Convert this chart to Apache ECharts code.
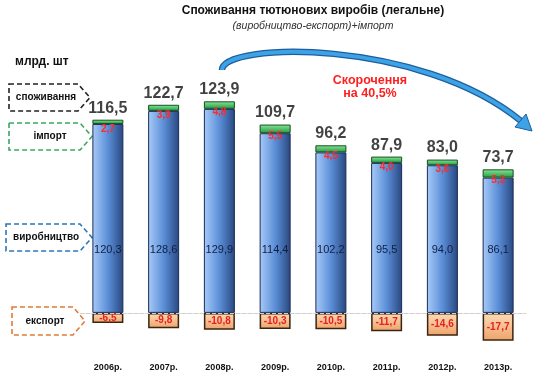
<!DOCTYPE html>
<html>
<head>
<meta charset="utf-8">
<script src="https://cdn.jsdelivr.net/npm/echarts@6/dist/echarts.min.js"></script>
<style>html,body{margin:0;padding:0;background:#fff}#c{width:550px;height:375px}</style>
</head>
<body>
<div id="c"></div>
<script>
var years = ['2006р.', '2007р.', '2008р.', '2009р.', '2010р.', '2011р.', '2012р.', '2013р.'];
var production = [120.3, 128.6, 129.9, 114.4, 102.2, 95.5, 94.0, 86.1];
var imports = [2.7, 3.9, 4.8, 5.5, 4.5, 4.0, 3.6, 5.3];
var exports = [-6.5, -9.8, -10.8, -10.3, -10.5, -11.7, -14.6, -17.7];
var consumption = [116.5, 122.7, 123.9, 109.7, 96.2, 87.9, 83.0, 73.7];

var FONT = '"Liberation Sans", Arial, sans-serif';
function fmt(v) { return v.toFixed(1).replace('.', ','); }

var topOfStack = production.map(function (p, i) { return p + imports[i]; });

function callout(x0, y0, x1, y1, color, text, tx) {
  var ym = (y0 + y1) / 2;
  return [{
    type: 'polygon',
    shape: { points: [[x0, y0], [x1 - 12, y0], [x1, ym], [x1 - 12, y1], [x0, y1]] },
    style: { fill: 'none', stroke: color, lineWidth: 1.6, lineDash: [5, 3] },
    silent: true
  }, {
    type: 'text',
    x: tx, y: ym,
    style: { text: text, fill: '#111', font: 'bold 10px ' + FONT, textAlign: 'center', textVerticalAlign: 'middle' },
    silent: true
  }];
}

var chart = echarts.init(document.getElementById('c'), null, { renderer: 'canvas' });

var graphics = [
  { type: 'text', x: 313, y: 11, style: { text: 'Споживання тютюнових виробів (легальне)', fill: '#111', font: 'bold 12px ' + FONT, textAlign: 'center', textVerticalAlign: 'middle' } },
  { type: 'text', x: 313, y: 26, style: { text: '(виробництво-експорт)+імпорт', fill: '#333', font: 'italic 10.5px ' + FONT, textAlign: 'center', textVerticalAlign: 'middle' } },
  { type: 'text', x: 15, y: 62, style: { text: 'млрд. шт', fill: '#111', font: 'bold 12px ' + FONT, textAlign: 'left', textVerticalAlign: 'middle' } },
  { type: 'text', x: 370, y: 87, style: { text: 'Скорочення\nна 40,5%', fill: '#ff1f1f', font: 'bold 12.5px ' + FONT, textAlign: 'center', textVerticalAlign: 'middle', lineHeight: 13 } },
  { type: 'bezierCurve', shape: { x1: 222, y1: 70, cpx1: 222, cpy1: 42, cpx2: 420, cpy2: 38, x2: 521, y2: 121 }, style: { stroke: '#1d5f9c', lineWidth: 6.5, fill: 'none' }, silent: true },
  { type: 'bezierCurve', shape: { x1: 222, y1: 70, cpx1: 222, cpy1: 42, cpx2: 420, cpy2: 38, x2: 521, y2: 121 }, style: { stroke: '#3ea2e6', lineWidth: 4, fill: 'none' }, silent: true },
  { type: 'polygon', shape: { points: [[532, 131], [515, 127], [526, 114]] }, style: { fill: '#3ea2e6', stroke: '#1d5f9c', lineWidth: 1 }, silent: true }
];
graphics = graphics
  .concat(callout(9, 84, 90, 111, '#222', 'споживання', 46))
  .concat(callout(9, 123, 92, 150, '#3aa860', 'імпорт', 50))
  .concat(callout(6, 224, 92, 251, '#2e75b6', 'виробництво', 46))
  .concat(callout(12, 307, 85, 335, '#e07b39', 'експорт', 45));

var option = {
  animation: false,
  backgroundColor: '#fff',
  grid: { left: 80, right: 24, top: 93, bottom: 15 },
  xAxis: {
    type: 'category',
    data: years,
    axisLine: { show: true, lineStyle: { color: '#e2e2e2' } },
    axisTick: { show: false },
    axisLabel: { margin: 3, fontFamily: FONT, fontSize: 9, fontWeight: 'bold', color: '#111' }
  },
  yAxis: { type: 'value', min: -30, max: 140, show: false },
  series: [
    {
      name: 'виробництво', type: 'bar', stack: 'total', barWidth: 31,
      data: production,
      itemStyle: {
        color: new echarts.graphic.LinearGradient(0, 0, 1, 0, [
          { offset: 0, color: '#a8cbf8' }, { offset: 0.5, color: '#5c8fd8' }, { offset: 1, color: '#28477f' }
        ]),
        borderColor: '#1b2c55', borderWidth: 1
      },
      label: { show: true, position: 'insideBottom', distance: 57, fontFamily: FONT, fontSize: 11, color: '#0f1f45', formatter: function (p) { return fmt(p.value); } },
      markLine: {
        silent: true, symbol: 'none', label: { show: false },
        lineStyle: { color: '#cfcfcf', type: 'dashed', width: 1 },
        data: [{ yAxis: 0 }]
      }
    },
    {
      name: 'імпорт', type: 'bar', stack: 'total', barWidth: 31,
      data: imports,
      itemStyle: {
        color: new echarts.graphic.LinearGradient(0, 0, 0, 1, [
          { offset: 0, color: '#8ae89a' }, { offset: 1, color: '#1f9a3f' }
        ]),
        borderColor: '#134d1e', borderWidth: 1
      },
      label: { show: true, position: 'inside', offset: [0, 7], fontFamily: FONT, fontSize: 10, fontWeight: 'bold', color: '#ff2a2a', formatter: function (p) { return fmt(p.value); } }
    },
    {
      name: 'експорт', type: 'bar', stack: 'total', barWidth: 31,
      data: exports,
      itemStyle: {
        color: new echarts.graphic.LinearGradient(0, 0, 0, 1, [
          { offset: 0, color: '#fcdcb8' }, { offset: 1, color: '#eea36a' }
        ]),
        borderColor: '#3b2410', borderWidth: 1.5
      },
      label: { show: true, position: 'inside', fontFamily: FONT, fontSize: 10, fontWeight: 'bold', color: '#e82020', formatter: function (p) { return fmt(p.value); } }
    },
    {
      name: 'споживання', type: 'scatter', symbolSize: 1,
      data: topOfStack,
      itemStyle: { color: 'rgba(0,0,0,0)' },
      silent: true,
      label: { show: true, position: 'top', distance: 3, fontFamily: FONT, fontSize: 16, fontWeight: 'bold', color: '#111', formatter: function (p) { return fmt(consumption[p.dataIndex]); } }
    }
  ],
  graphic: graphics
};
chart.setOption(option);
</script>
</body>
</html>
